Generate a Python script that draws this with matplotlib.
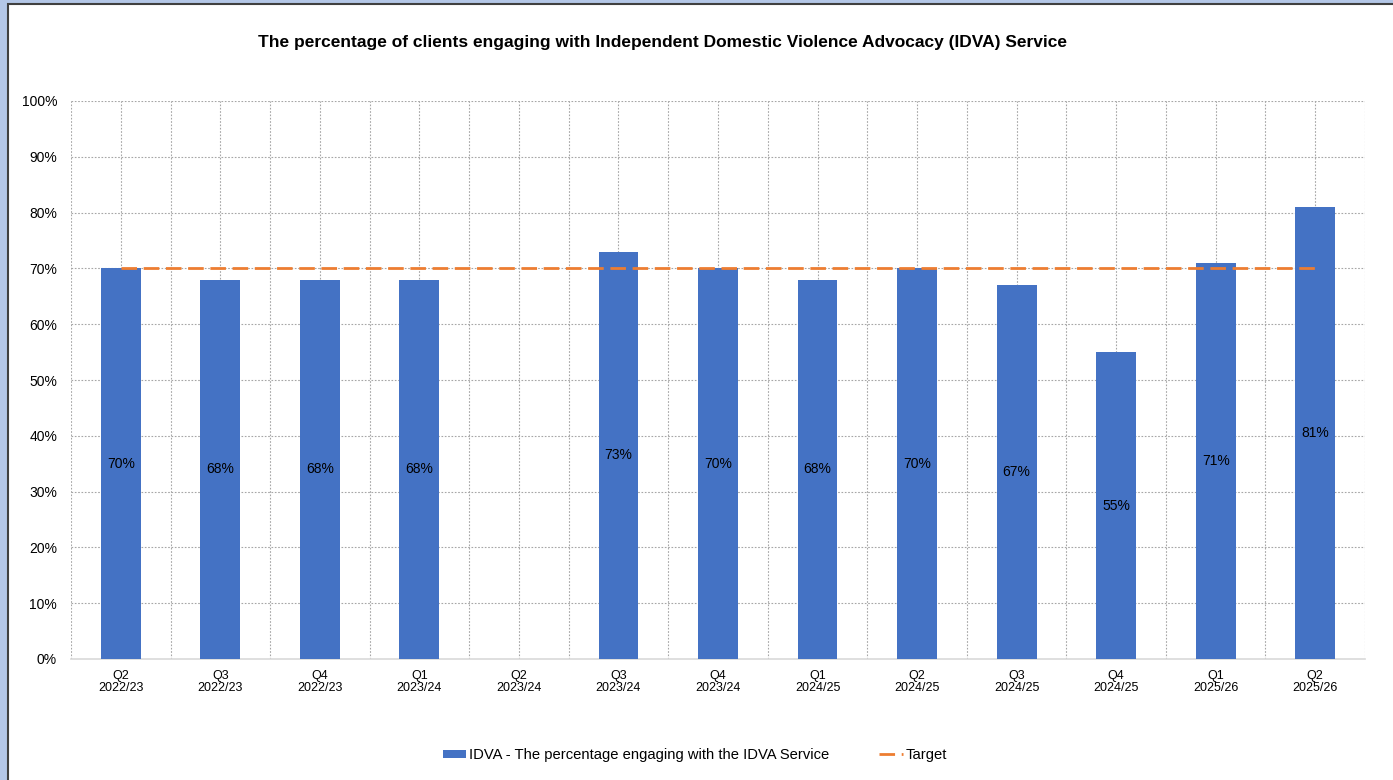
import matplotlib
matplotlib.use('Agg')

import numpy as np
import matplotlib.pyplot as plt
from matplotlib.patches import Rectangle, Patch
from matplotlib.lines import Line2D
from matplotlib.ticker import MultipleLocator, PercentFormatter

plt.rcParams['font.family'] = ['Liberation Sans', 'DejaVu Sans']

# Quarterly engagement rates (%); Q2 2023/24 has no figure
quarters = ['Q2', 'Q3', 'Q4', 'Q1', 'Q2', 'Q3', 'Q4', 'Q1', 'Q2', 'Q3', 'Q4', 'Q1', 'Q2']
years = ['2022/23', '2022/23', '2022/23', '2023/24', '2023/24', '2023/24', '2023/24',
         '2024/25', '2024/25', '2024/25', '2024/25', '2025/26', '2025/26']
engagement = [70, 68, 68, 68, np.nan, 73, 70, 68, 70, 67, 55, 71, 81]
target = [70] * len(quarters)

bar_color = '#4472C4'
target_color = '#ED7D31'
grid_color = '#A6A6A6'
target_dashes = (5.6, 2.4)

W, H = 1393, 780
fig = plt.figure(figsize=(W / 100, H / 100), dpi=100)
fig.patch.set_facecolor('#B4C7E7')

# White chart panel with a dark edge
panel = Rectangle((8 / W, -0.1), 1.2, 0.1 + (H - 4) / H, transform=fig.transFigure,
                  facecolor='white', edgecolor='#404040', lw=1.5, zorder=-10)
fig.patches.append(panel)

ax = fig.add_axes([71 / W, (H - 659) / H, (1365 - 71) / W, (659 - 101) / H])
ax.set_facecolor('none')

x = np.arange(len(quarters))
ax.bar(x, engagement, width=0.4, color=bar_color, zorder=3)

for xi, v in zip(x, engagement):
    if np.isnan(v):
        continue
    ax.text(xi, v / 2, f'{v:.0f}%', ha='center', va='center', fontsize=10,
            color='black', zorder=4)

ax.plot(x, target, color=target_color, lw=2, dashes=target_dashes, zorder=5)

ax.set_xlim(-0.5, len(quarters) - 0.5)
ax.set_ylim(0, 100)
ax.yaxis.set_major_locator(MultipleLocator(10))
ax.yaxis.set_major_formatter(PercentFormatter(decimals=0))

ax.set_xticks(x)
ax.set_xticklabels([f'{q}\n{y}' for q, y in zip(quarters, years)], fontsize=9,
                   linespacing=1.0)
ax.tick_params(axis='both', length=0, labelsize=10)
ax.tick_params(axis='x', labelsize=9, pad=8)
ax.tick_params(axis='y', pad=10)

# Dotted grid at every 10% and at both centres and edges of categories
for yv in range(10, 101, 10):
    ax.axhline(yv, color=grid_color, lw=0.8, ls=(0, (1.5, 1.5)), zorder=1)
for xv in np.arange(-0.5, len(quarters), 0.5):
    ax.axvline(xv, color=grid_color, lw=0.8, ls=(0, (1.5, 1.5)), zorder=1)

for side in ['top', 'right', 'left']:
    ax.spines[side].set_visible(False)
ax.spines['bottom'].set_color('#D9D9D9')
ax.spines['bottom'].set_linewidth(1.2)
ax.spines['bottom'].set_zorder(2)

fig.text(662 / W, 1 - 43 / H,
         'The percentage of clients engaging with Independent Domestic Violence Advocacy (IDVA) Service',
         ha='center', va='center', fontsize=12.5, fontweight='bold')

handles = [Patch(facecolor=bar_color, edgecolor='none'),
           Line2D([], [], color=target_color, lw=2, dashes=target_dashes)]
labels = ['IDVA - The percentage engaging with the IDVA Service', 'Target']
fig.legend(handles, labels, loc='center', bbox_to_anchor=(695 / W, 1 - 755 / H),
           ncol=2, frameon=False, fontsize=10.6, handlelength=1.6, handleheight=0.5,
           handletextpad=0.2, columnspacing=3.4)

fig.savefig('out.png', dpi=100)
